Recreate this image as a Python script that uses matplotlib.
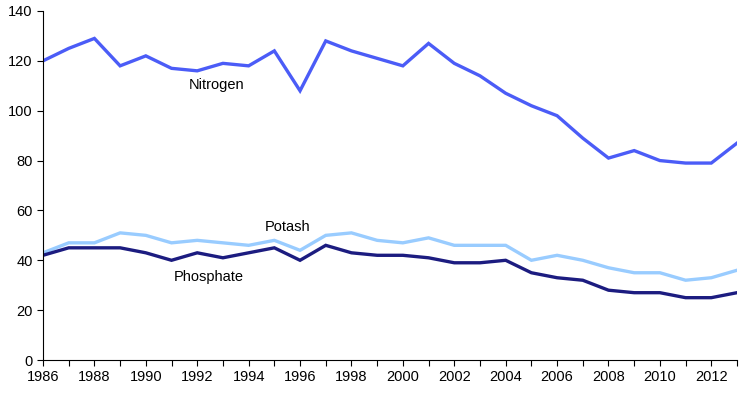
import matplotlib
matplotlib.use("Agg")
import matplotlib.pyplot as plt
from matplotlib.ticker import MultipleLocator

# Fertiliser use by year
years = list(range(1986, 2014))

nitrogen = [120, 125, 129, 118, 122, 117, 116, 119, 118, 124, 108, 128, 124, 121,
            118, 127, 119, 114, 107, 102, 98, 89, 81, 84, 80, 79, 79, 87]
potash = [43, 47, 47, 51, 50, 47, 48, 47, 46, 48, 44, 50, 51, 48,
          47, 49, 46, 46, 46, 40, 42, 40, 37, 35, 35, 32, 33, 36]
phosphate = [42, 45, 45, 45, 43, 40, 43, 41, 43, 45, 40, 46, 43, 42,
             42, 41, 39, 39, 40, 35, 33, 32, 28, 27, 27, 25, 25, 27]

plt.rcParams['font.family'] = ['Liberation Sans', 'DejaVu Sans']

fig = plt.figure(figsize=(7.52, 3.94), dpi=100)
ax = fig.add_axes([43/752, 1 - 360/394, (737 - 43)/752, (360 - 11)/394])

ax.plot(years, nitrogen, color='#4B5CF7', lw=2.4, solid_joinstyle='miter')
ax.plot(years, potash, color='#99CCFF', lw=2.4, solid_joinstyle='miter')
ax.plot(years, phosphate, color='#1C1C80', lw=2.4, solid_joinstyle='miter')

# series labels placed next to the lines
ax.text(1992.75, 110.5, 'Nitrogen', fontsize=10.5, ha='center', va='center')
ax.text(1995.5, 53.3, 'Potash', fontsize=10.5, ha='center', va='center')
ax.text(1992.45, 33.3, 'Phosphate', fontsize=10.5, ha='center', va='center')

ax.set_xlim(1986, 2013)
ax.set_ylim(0, 140)
ax.xaxis.set_major_locator(MultipleLocator(2))
ax.xaxis.set_minor_locator(MultipleLocator(1))
ax.yaxis.set_major_locator(MultipleLocator(20))

for side in ['top', 'right']:
    ax.spines[side].set_visible(False)
for side in ['left', 'bottom']:
    ax.spines[side].set_linewidth(0.8)
    ax.spines[side].set_color('black')

ax.tick_params(axis='both', which='both', direction='out', length=4, width=0.8,
               labelsize=10.5, colors='black')
ax.tick_params(axis='x', pad=3)

fig.savefig('out.png', dpi=100)
